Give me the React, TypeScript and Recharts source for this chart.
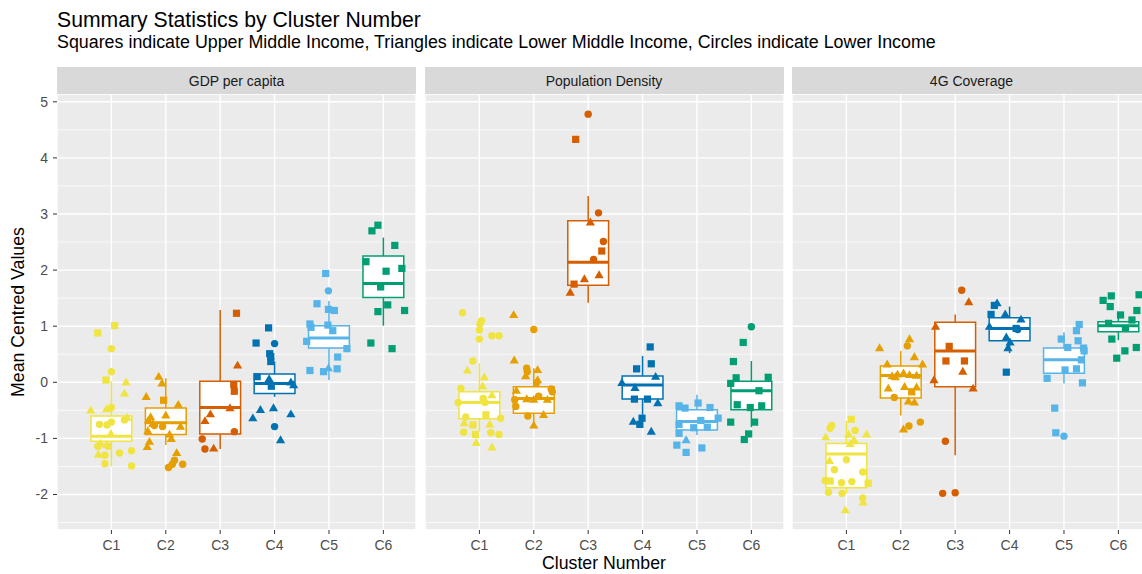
import { ScatterChart, Scatter, XAxis, YAxis, CartesianGrid, ReferenceArea, ReferenceLine } from 'recharts';

// categories / facets
const clusters = ['C1', 'C2', 'C3', 'C4', 'C5', 'C6'];
const clusterColors = ['#F0E442', '#E69F00', '#D55E00', '#0072B2', '#56B4E9', '#009E73'];
const facetNames = ['GDP per capita', 'Population Density', '4G Coverage'];
const yTicks = [-2, -1, 0, 1, 2, 3, 4, 5];
const yMinorTicks = [-2.5, -1.5, -0.5, 0.5, 1.5, 2.5, 3.5, 4.5];

// boxplot stats per cluster: [lower whisker, q1, median, q3, upper whisker]
const gdpBoxes = [
  [-1.5, -1.05, -0.96, -0.6, 0.02],
  [-1.12, -0.93, -0.72, -0.46, 0.07],
  [-1.19, -0.92, -0.45, 0.02, 1.29],
  [-0.26, -0.2, -0.02, 0.15, 0.37],
  [0.04, 0.61, 0.79, 1.01, 1.45],
  [1.01, 1.51, 1.76, 2.25, 2.58],
];
const popBoxes = [
  [-0.88, -0.65, -0.36, -0.17, 0.34],
  [-0.76, -0.55, -0.29, -0.08, 0.25],
  [1.42, 1.73, 2.14, 2.88, 3.32],
  [-0.58, -0.3, -0.05, 0.11, 0.47],
  [-0.94, -0.85, -0.7, -0.49, -0.22],
  [-0.8, -0.49, -0.15, 0.02, 0.38],
];
const coverageBoxes = [
  [-1.98, -1.88, -1.28, -1.09, -0.69],
  [-0.59, -0.28, 0.12, 0.29, 0.56],
  [-1.3, -0.08, 0.56, 1.07, 1.21],
  [0.52, 0.74, 0.96, 1.15, 1.35],
  [-0.02, 0.16, 0.4, 0.61, 0.89],
  [0.75, 0.9, 1.01, 1.08, 1.26],
];

// jittered points: [cluster, x jitter, value, shape]  s = upper middle, t = lower middle, c = lower income
type Pt = [number, number, number, string];

const gdpPoints: Pt[] = [
  [1, -0.25, 0.88, 's'], [1, 0.06, 1.01, 's'], [1, 0, 0.6, 'c'], [1, 0, 0.19, 'c'], [1, -0.1, 0.04, 's'],
  [1, 0.27, 0.0, 't'], [1, 0.24, -0.2, 't'], [1, -0.38, -0.5, 't'], [1, -0.09, -0.48, 't'], [1, 0, -0.45, 'c'],
  [1, 0.29, -0.63, 't'], [1, 0.24, -0.67, 'c'], [1, -0.22, -0.75, 'c'], [1, -0.08, -0.76, 'c'], [1, 0, -0.71, 'c'],
  [1, -0.01, -0.92, 't'], [1, -0.25, -1.14, 'c'], [1, -0.09, -1.12, 't'], [1, -0.2, -1.09, 't'], [1, -0.06, -1.14, 'c'],
  [1, -0.24, -1.29, 't'], [1, -0.12, -1.3, 'c'], [1, 0.15, -1.26, 'c'], [1, 0.37, -1.22, 'c'], [1, -0.12, -1.45, 'c'],
  [1, 0.37, -1.49, 'c'],
  [2, -0.13, 0.1, 't'], [2, -0.07, -0.02, 't'], [2, -0.04, -0.32, 's'], [2, -0.36, -0.26, 't'], [2, 0, -0.59, 't'],
  [2, 0.23, -0.4, 't'], [2, -0.28, -0.62, 't'], [2, -0.32, -0.68, 't'], [2, -0.24, -0.74, 't'], [2, -0.06, -0.79, 'c'],
  [2, -0.21, -0.77, 'c'], [2, 0.27, -0.79, 't'], [2, -0.33, -0.87, 't'], [2, 0.07, -0.93, 't'], [2, 0.1, -1.01, 't'],
  [2, -0.3, -1.06, 't'], [2, -0.34, -1.15, 't'], [2, 0.2, -1.26, 't'], [2, 0.16, -1.39, 'c'], [2, 0.12, -1.46, 'c'],
  [2, 0.05, -1.52, 'c'], [2, 0.31, -1.46, 'c'],
  [3, 0.3, 1.23, 's'], [3, 0.32, 0.3, 't'], [3, 0.25, -0.04, 's'], [3, 0.26, -0.16, 's'], [3, 0.18, -0.46, 't'],
  [3, -0.18, -0.57, 't'], [3, -0.28, -0.69, 't'], [3, 0.26, -0.88, 'c'], [3, -0.33, -1.01, 'c'], [3, -0.28, -1.19, 'c'],
  [3, -0.12, -1.18, 't'],
  [4, -0.11, 0.97, 's'], [4, -0.34, 0.7, 's'], [4, 0, 0.69, 'c'], [4, -0.09, 0.51, 's'], [4, -0.07, 0.46, 's'],
  [4, -0.07, 0.37, 's'], [4, -0.32, 0.1, 's'], [4, -0.1, 0.06, 't'], [4, -0.06, -0.07, 's'], [4, 0.3, 0.0, 't'],
  [4, 0.35, -0.05, 't'], [4, -0.26, -0.49, 't'], [4, -0.4, -0.64, 't'], [4, -0.02, -0.46, 't'], [4, 0.3, -0.57, 't'],
  [4, 0, -0.79, 'c'], [4, 0.11, -1.03, 't'],
  [5, -0.06, 1.94, 's'], [5, -0.01, 1.63, 'c'], [5, -0.22, 1.4, 's'], [5, -0.01, 1.3, 's'], [5, 0.1, 1.28, 's'],
  [5, -0.35, 1.04, 's'], [5, -0.33, 0.98, 's'], [5, -0.02, 1.02, 's'], [5, 0.07, 0.92, 's'], [5, -0.41, 0.73, 's'],
  [5, 0.33, 0.6, 's'], [5, 0.16, 0.45, 's'], [5, -0.35, 0.21, 's'], [5, -0.1, 0.19, 's'], [5, -0.01, 0.25, 't'],
  [5, 0.15, 0.24, 's'],
  [6, -0.21, 2.7, 's'], [6, -0.1, 2.8, 's'], [6, 0.21, 2.44, 's'], [6, -0.32, 2.15, 's'], [6, 0.05, 1.98, 's'],
  [6, 0.34, 2.03, 's'], [6, -0.05, 1.7, 's'], [6, 0.08, 1.38, 's'], [6, -0.1, 1.26, 's'], [6, 0.39, 1.28, 's'],
  [6, -0.23, 0.7, 's'], [6, 0.16, 0.6, 's'],
];

const popPoints: Pt[] = [
  [1, -0.31, 1.24, 'c'], [1, 0.04, 1.1, 'c'], [1, 0.01, 1.04, 'c'], [1, 0, 0.93, 'c'], [1, 0, 0.77, 'c'],
  [1, 0.23, 0.83, 'c'], [1, 0.36, 0.83, 'c'], [1, -0.12, 0.38, 'c'], [1, -0.22, 0.21, 't'], [1, 0.09, 0.09, 't'],
  [1, 0.06, -0.07, 't'], [1, 0.23, -0.23, 't'], [1, -0.34, -0.11, 'c'], [1, -0.39, -0.36, 'c'], [1, 0.1, -0.36, 'c'],
  [1, 0.07, -0.29, 'c'], [1, 0.12, -0.58, 's'], [1, -0.25, -0.62, 'c'], [1, 0.39, -0.64, 'c'], [1, -0.28, -0.73, 't'],
  [1, -0.12, -0.76, 's'], [1, 0.19, -0.75, 't'], [1, -0.29, -0.89, 'c'], [1, -0.07, -0.93, 's'], [1, 0.21, -0.9, 'c'],
  [1, 0.36, -0.93, 'c'], [1, -0.06, -1.08, 't'], [1, 0.23, -1.16, 't'],
  [2, -0.37, 1.2, 't'], [2, 0, 0.94, 'c'], [2, -0.36, 0.39, 't'], [2, -0.13, 0.25, 'c'], [2, -0.12, 0.19, 'c'],
  [2, 0.07, 0.22, 't'], [2, -0.15, 0.11, 't'], [2, 0.07, 0.04, 't'], [2, 0.05, -0.01, 'c'], [2, -0.32, -0.15, 't'],
  [2, 0.32, -0.12, 'c'], [2, 0.34, -0.17, 'c'], [2, -0.13, -0.3, 't'], [2, 0, -0.31, 't'], [2, -0.35, -0.31, 'c'],
  [2, 0.25, -0.31, 't'], [2, 0.09, -0.25, 'c'], [2, -0.33, -0.43, 'c'], [2, -0.11, -0.6, 'c'], [2, 0.18, -0.58, 't'],
  [2, 0, -0.77, 't'],
  [3, 0, 4.78, 'c'], [3, -0.23, 4.33, 's'], [3, 0.19, 3.02, 'c'], [3, 0.04, 2.85, 't'], [3, 0.28, 2.51, 'c'],
  [3, 0.25, 2.34, 's'], [3, 0.1, 2.19, 'c'], [3, 0.2, 1.91, 't'], [3, -0.07, 1.84, 't'], [3, -0.26, 1.75, 's'],
  [3, -0.33, 1.6, 't'],
  [4, 0.14, 0.63, 's'], [4, 0.16, 0.33, 's'], [4, -0.11, 0.24, 's'], [4, 0.24, 0.1, 't'], [4, -0.38, -0.01, 't'],
  [4, -0.14, -0.1, 't'], [4, -0.15, -0.3, 's'], [4, 0.09, -0.3, 's'], [4, 0.28, -0.37, 't'], [4, -0.01, -0.64, 's'],
  [4, -0.17, -0.7, 't'], [4, -0.05, -0.75, 's'], [4, 0.16, -0.88, 't'],
  [5, 0.02, -0.37, 's'], [5, -0.33, -0.42, 's'], [5, -0.22, -0.46, 's'], [5, 0.24, -0.45, 's'], [5, 0.39, -0.64, 's'],
  [5, 0.07, -0.68, 's'], [5, -0.33, -0.75, 's'], [5, -0.06, -0.81, 's'], [5, 0.19, -0.8, 's'], [5, -0.33, -0.91, 's'],
  [5, -0.2, -1.03, 't'], [5, -0.37, -1.12, 's'], [5, 0.09, -1.17, 's'], [5, -0.2, -1.25, 's'],
  [6, 0, 0.99, 'c'], [6, -0.15, 0.71, 's'], [6, -0.33, 0.37, 's'], [6, -0.38, -0.02, 's'], [6, -0.28, 0.08, 's'],
  [6, 0.31, 0.09, 's'], [6, 0.14, -0.15, 's'], [6, -0.26, -0.4, 's'], [6, -0.02, -0.45, 's'], [6, 0.19, -0.42, 's'],
  [6, -0.38, -0.71, 's'], [6, 0.06, -0.71, 's'], [6, -0.05, -0.92, 's'], [6, -0.13, -1.02, 's'],
];

const coveragePoints: Pt[] = [
  [1, 0.09, -0.66, 's'], [1, -0.27, -0.77, 'c'], [1, -0.3, -0.82, 'c'], [1, 0.16, -0.86, 'c'], [1, -0.38, -0.98, 't'],
  [1, 0.37, -0.93, 't'], [1, 0.04, -0.93, 't'], [1, 0.14, -1.03, 't'], [1, 0.07, -1.1, 't'], [1, -0.31, -1.4, 't'],
  [1, 0, -1.38, 'c'], [1, -0.22, -1.56, 'c'], [1, 0.3, -1.6, 'c'], [1, -0.39, -1.75, 'c'], [1, -0.3, -1.76, 's'],
  [1, -0.09, -1.79, 'c'], [1, 0.1, -1.77, 'c'], [1, 0.4, -1.8, 's'], [1, -0.33, -1.96, 'c'], [1, -0.08, -1.98, 'c'],
  [1, 0.3, -2.06, 'c'], [1, 0.31, -2.14, 't'], [1, -0.02, -2.28, 't'],
  [2, -0.39, 0.61, 't'], [2, 0.16, 0.77, 't'], [2, 0.12, 0.65, 'c'], [2, 0.25, 0.45, 't'], [2, -0.25, 0.32, 't'],
  [2, 0.4, 0.32, 't'], [2, -0.16, 0.11, 't'], [2, -0.06, 0.14, 't'], [2, 0.05, 0.16, 't'], [2, 0.16, 0.13, 't'],
  [2, 0.29, 0.12, 't'], [2, -0.1, 0.09, 't'], [2, -0.23, -0.11, 't'], [2, 0.07, -0.08, 't'], [2, 0.29, -0.09, 't'],
  [2, 0.2, -0.17, 's'], [2, -0.12, -0.27, 'c'], [2, 0.14, -0.34, 't'], [2, 0.25, -0.36, 't'], [2, 0.36, -0.71, 'c'],
  [2, 0.15, -0.78, 'c'], [2, 0.05, -0.84, 't'],
  [3, 0.12, 1.64, 'c'], [3, 0.25, 1.43, 't'], [3, -0.36, 0.99, 't'], [3, -0.11, 0.64, 's'], [3, -0.17, 0.38, 's'],
  [3, 0.17, 0.38, 's'], [3, 0.14, 0.19, 't'], [3, -0.39, 0.04, 't'], [3, 0.33, -0.11, 't'], [3, -0.18, -1.05, 'c'],
  [3, -0.23, -1.98, 'c'], [3, 0, -1.97, 'c'],
  [4, -0.23, 1.41, 't'], [4, -0.28, 1.37, 's'], [4, -0.34, 1.21, 's'], [4, -0.08, 1.21, 't'], [4, 0.21, 1.12, 't'],
  [4, -0.37, 0.99, 't'], [4, 0.15, 0.94, 'c'], [4, 0.12, 0.96, 's'], [4, -0.06, 0.8, 't'], [4, 0.01, 0.71, 't'],
  [4, -0.03, 0.61, 't'], [4, -0.06, 0.18, 's'],
  [5, 0.28, 1.03, 's'], [5, 0.23, 0.92, 's'], [5, -0.05, 0.77, 's'], [5, 0.26, 0.74, 's'], [5, 0.07, 0.62, 's'],
  [5, 0.36, 0.61, 's'], [5, 0.37, 0.56, 's'], [5, 0.32, 0.4, 's'], [5, 0.02, 0.22, 's'], [5, 0.23, 0.24, 's'],
  [5, -0.31, 0.07, 's'], [5, 0.34, -0.01, 's'], [5, -0.17, -0.46, 's'], [5, -0.15, -0.9, 's'], [5, 0, -0.96, 'c'],
  [6, 0.38, 1.56, 's'], [6, -0.13, 1.54, 's'], [6, -0.28, 1.46, 's'], [6, -0.15, 1.35, 's'], [6, 0.34, 1.28, 's'],
  [6, 0.04, 1.2, 's'], [6, 0.25, 1.11, 's'], [6, -0.18, 1.05, 's'], [6, 0.13, 0.96, 's'], [6, -0.12, 0.77, 's'],
  [6, 0.12, 0.56, 's'], [6, 0.33, 0.62, 's'], [6, -0.03, 0.43, 's'],
];

const font = '"Liberation Sans", Arial, sans-serif';
const PANEL_W = 359;
const PANEL_H = 436;
const AXIS_W = 57;
const BOX_HALF = 0.375;

const PointShape = (props: any) => {
  const { cx, cy, fill, payload } = props;
  if (cx == null || cy == null) return null;
  if (payload.shape === 's') {
    return <rect x={cx - 3.6} y={cy - 3.6} width={7.2} height={7.2} fill={fill} />;
  }
  if (payload.shape === 't') {
    return <polygon points={`${cx},${cy - 4.8} ${cx + 4.6},${cy + 3.1} ${cx - 4.6},${cy + 3.1}`} fill={fill} />;
  }
  return <circle cx={cx} cy={cy} r={3.7} fill={fill} />;
};

function Panel({ boxes, points, showY }: { boxes: number[][]; points: Pt[]; showY: boolean }) {
  const width = showY ? AXIS_W + PANEL_W : PANEL_W;
  return (
    <ScatterChart width={width} height={PANEL_H + 40} margin={{ top: 0, right: 0, bottom: 0, left: 0 }}>
      <CartesianGrid
        horizontalValues={yMinorTicks}
        vertical={false}
        stroke="#ffffff"
        strokeWidth={0.7}
        fill="#EBEBEB"
        fillOpacity={1}
      />
      <CartesianGrid stroke="#ffffff" strokeWidth={1.4} />
      <XAxis
        type="number"
        dataKey="x"
        domain={[0, 6.6]}
        ticks={[1, 2, 3, 4, 5, 6]}
        allowDataOverflow
        tickFormatter={(v: number) => clusters[v - 1]}
        axisLine={false}
        tickLine={{ stroke: '#333333' }}
        tickSize={4}
        tickMargin={6}
        height={40}
        tick={{ fill: '#4D4D4D', fontSize: 14, fontFamily: font }}
      />
      <YAxis
        type="number"
        dataKey="y"
        domain={[-2.633, 5.139]}
        ticks={yTicks}
        allowDataOverflow
        hide={!showY}
        width={AXIS_W}
        axisLine={false}
        tickLine={{ stroke: '#333333' }}
        tickSize={4}
        tickMargin={5}
        tick={{ fill: '#4D4D4D', fontSize: 14, fontFamily: font }}
      />
      {boxes.map((b, i) => (
        <ReferenceArea
          key={`box-${i}`}
          x1={i + 1 - BOX_HALF}
          x2={i + 1 + BOX_HALF}
          y1={b[1]}
          y2={b[3]}
          fill="#ffffff"
          fillOpacity={1}
          stroke={clusterColors[i]}
          strokeWidth={1.5}
        />
      ))}
      {boxes.map((b, i) => (
        <ReferenceLine
          key={`up-${i}`}
          segment={[{ x: i + 1, y: b[3] }, { x: i + 1, y: b[4] }]}
          stroke={clusterColors[i]}
          strokeWidth={1.5}
        />
      ))}
      {boxes.map((b, i) => (
        <ReferenceLine
          key={`lo-${i}`}
          segment={[{ x: i + 1, y: b[0] }, { x: i + 1, y: b[1] }]}
          stroke={clusterColors[i]}
          strokeWidth={1.5}
        />
      ))}
      {boxes.map((b, i) => (
        <ReferenceLine
          key={`med-${i}`}
          segment={[{ x: i + 1 - BOX_HALF, y: b[2] }, { x: i + 1 + BOX_HALF, y: b[2] }]}
          stroke={clusterColors[i]}
          strokeWidth={3}
        />
      ))}
      {clusters.map((c, i) => (
        <Scatter
          key={c}
          name={c}
          data={points
            .filter((p) => p[0] === i + 1)
            .map((p) => ({ x: p[0] + p[1], y: p[2], shape: p[3] }))}
          fill={clusterColors[i]}
          shape={PointShape}
          isAnimationActive={false}
        />
      ))}
    </ScatterChart>
  );
}

const facetData = [
  { boxes: gdpBoxes, points: gdpPoints, left: 57 },
  { boxes: popBoxes, points: popPoints, left: 424.5 },
  { boxes: coverageBoxes, points: coveragePoints, left: 792 },
];

export default function App() {
  return (
    <div
      style={{
        position: 'absolute',
        left: 0,
        top: 0,
        width: 1142,
        height: 574,
        overflow: 'hidden',
        background: '#ffffff',
        fontFamily: font,
      }}
    >
      <div style={{ position: 'absolute', left: 57, top: 9.3, fontSize: 21.2, lineHeight: 1, color: '#000', whiteSpace: 'nowrap' }}>
        Summary Statistics by Cluster Number
      </div>
      <div style={{ position: 'absolute', left: 57, top: 34.4, fontSize: 17.85, lineHeight: 1, color: '#000', whiteSpace: 'nowrap' }}>
        Squares indicate Upper Middle Income, Triangles indicate Lower Middle Income, Circles indicate Lower Income
      </div>

      {facetData.map((f, i) => (
        <div
          key={facetNames[i]}
          style={{
            position: 'absolute',
            left: f.left,
            top: 67,
            width: PANEL_W,
            height: 27,
            background: '#D9D9D9',
            color: '#1A1A1A',
            fontSize: 14,
            display: 'flex',
            alignItems: 'center',
            justifyContent: 'center',
          }}
        >
          {facetNames[i]}
        </div>
      ))}

      {facetData.map((f, i) => (
        <div key={`panel-${i}`} style={{ position: 'absolute', left: i === 0 ? 0 : f.left, top: 94 }}>
          <Panel boxes={f.boxes} points={f.points} showY={i === 0} />
        </div>
      ))}

      <div
        style={{
          position: 'absolute',
          left: 19,
          top: 312,
          transform: 'translate(-50%, -50%) rotate(-90deg)',
          fontSize: 17.7,
          lineHeight: 1,
          whiteSpace: 'nowrap',
          color: '#000',
        }}
      >
        Mean Centred Values
      </div>
      <div
        style={{
          position: 'absolute',
          left: 604,
          top: 554.5,
          transform: 'translateX(-50%)',
          fontSize: 17.7,
          lineHeight: 1,
          whiteSpace: 'nowrap',
          color: '#000',
        }}
      >
        Cluster Number
      </div>
    </div>
  );
}
